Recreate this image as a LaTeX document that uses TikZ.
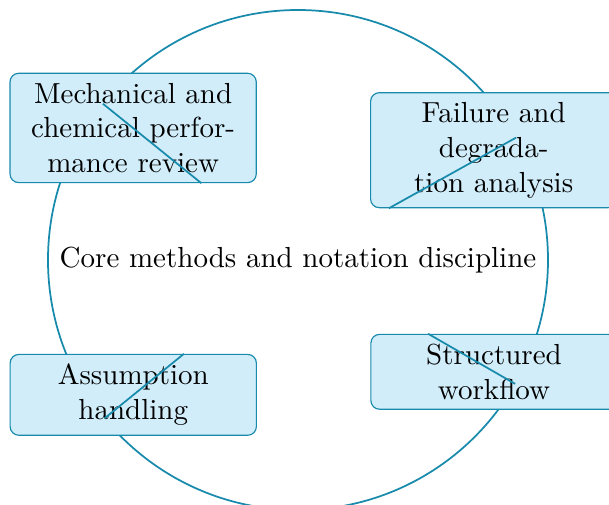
\documentclass[tikz,border=0pt]{standalone}
\definecolor{ringblue}{RGB}{24,138,172}
\definecolor{boxfill}{RGB}{209,237,249}
\tikzset{
  topic/.style={draw=ringblue, fill=boxfill, rounded corners=3pt,
    text width=2.75cm, align=center},
  spoke/.style={draw=ringblue, semithick}
}
\begin{document}
\begin{tikzpicture}
      \useasboundingbox (-102.76pt,-84.48pt) rectangle (107.24pt,89.66pt);
      \draw[ringblue, semithick] (0,0) circle (3.03cm);
      \draw
        (0,0) node (core){Core methods and notation discipline}
        (141.3:2.56) node[topic] (mech){Mechanical and chemical performance review}
        (29.3:2.72) node[topic] (fail){Failure and degradation analysis}
        (219.3:2.58) node[topic] (assum){Assumption handling}
        (330.3:2.735) node[topic] (flow){Structured workflow};
      \path
        (141.3:3.03) coordinate (rim1)
        (29.3:3.03) coordinate (rim2)
        (219.3:3.03) coordinate (rim3)
        (330.3:3.03) coordinate (rim4);
      \begin{scope}[spoke]
        \draw (mech.321.3) to (rim1);
        \draw (fail.209.3) to (rim2);
        \draw (assum.39.3) to (rim3);
        \draw (flow.150.3) to (rim4);
      \end{scope}
    \end{tikzpicture}
\end{document}
